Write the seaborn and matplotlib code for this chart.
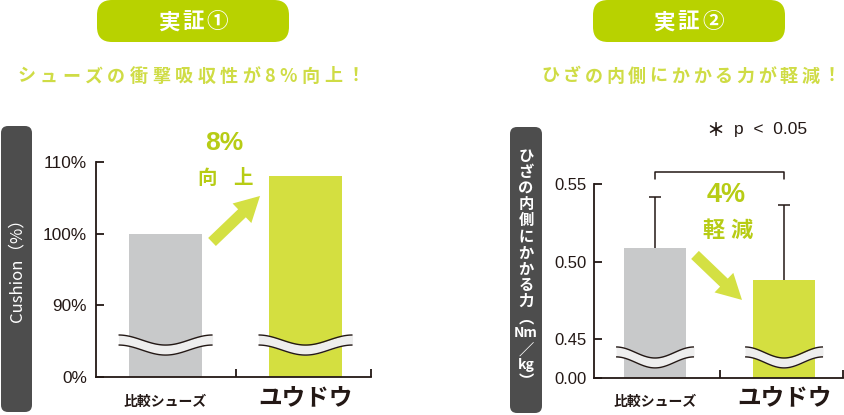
import numpy as np
import pandas as pd
import seaborn as sns
import matplotlib
matplotlib.use("Agg")
import matplotlib.pyplot as plt
from matplotlib.patches import FancyBboxPatch, FancyArrowPatch, ArrowStyle
from matplotlib import transforms

# ---------------- data ----------------
categories = ["比較シューズ", "ユウドウ"]
cushion_values = [100, 108]              # %
cushion_ticks = [0, 90, 100, 110]        # % (broken axis)
knee_values = [0.509, 0.488]             # Nm/kg
knee_upper = [0.5415, 0.5365]            # mean + SD
knee_ticks = [0.00, 0.45, 0.50, 0.55]

titles = ["実証①", "実証②"]
subtitles = ["シューズの衝撃吸収性が8%向上！", "ひざの内側にかかる力が軽減！"]

# broken-axis mappings
def cush_disp(v):
    return 0 if v == 0 else v - 80

def knee_disp(v):
    return 0 if v == 0 else v - 0.425

# ---------------- style ----------------
W, H = 845, 415
DARK = "#231815"
GRAY = "#c8c9ca"
GREEN = "#d4df40"
LIME_TXT = "#b7cc15"
PILL = "#b8d200"
SUB = "#cfdc45"
ARROW = "#d4e043"
BOX = "#4d4d4d"
WAVE = "#eeeeee"

sns.set_style("white")
plt.rcParams["font.family"] = ["Noto Sans CJK JP", "DejaVu Sans"]

fig = plt.figure(figsize=(W / 100, H / 100), dpi=100)
renderer = fig.canvas.get_renderer()

def ftext(x, y, s, **kw):
    kw.setdefault("ha", "center")
    kw.setdefault("va", "center")
    return fig.text(x / W, 1 - y / H, s, **kw)

def spaced_text(cx, cy, s, size, gap, color, weight="normal", family=None):
    em = size * 100 / 72
    fam = family or ["Noto Sans CJK JP", "DejaVu Sans"]
    advs = []
    for ch in s:
        if ord(ch) < 128:
            t = fig.text(0, 0, ch, fontsize=size, fontweight=weight, family=fam)
            advs.append(t.get_window_extent(renderer).width)
            t.remove()
        else:
            advs.append(em)
    total = sum(advs) + gap * (len(s) - 1)
    x = cx - total / 2
    for ch, a in zip(s, advs):
        ftext(x + a / 2, cy, ch, fontsize=size, fontweight=weight, color=color, family=fam)
        x += a + gap

# ---------------- header ----------------
for cx, x0, title, sub, subcx, gap in [(193, 97, titles[0], subtitles[0], 191, 4.4),
                                       (688.5, 593, titles[1], subtitles[1], 691, 3.6)]:
    pill = FancyBboxPatch((x0 / 100, (H - 42) / 100), 1.92, 0.42,
                          boxstyle="round,pad=0,rounding_size=0.15",
                          transform=fig.dpi_scale_trans, fc=PILL, ec="none")
    fig.add_artist(pill)
    spaced_text(cx, 22, title, 15.5, 3.0, "white", weight="bold")
    spaced_text(subcx, 76, sub, 13, gap, SUB, weight="bold")

# ---------------- y-label boxes ----------------
fig.add_artist(FancyBboxPatch((0.01, (H - 412) / 100), 0.31, 2.86,
                              boxstyle="round,pad=0,rounding_size=0.07",
                              transform=fig.dpi_scale_trans, fc=BOX, ec="none"))
ftext(16.5, 266, "Cushion（%）", rotation=90, fontsize=12, color="white")

fig.add_artist(FancyBboxPatch((5.10, (H - 413) / 100), 0.32, 2.86,
                              boxstyle="round,pad=0,rounding_size=0.07",
                              transform=fig.dpi_scale_trans, fc=BOX, ec="none"))
vert_items = ["ひ", "ざ", "の", "内", "側", "に", "か", "か", "る", "力", "︵", "Nm", "／", "kg", "︶"]
for i, it in enumerate(vert_items):
    ftext(526, 156 + i * 16.1, it, fontsize=10 if it in ("Nm", "kg") else 11,
          color="white", fontweight="bold")

# ---------------- axes ----------------
ax1 = fig.add_axes([96 / W, 1 - 377 / H, 275 / W, 215 / H])
ax2 = fig.add_axes([594 / W, 1 - 378 / H, 249 / W, 194 / H])

df1 = pd.DataFrame({"shoe": categories, "disp": [cush_disp(v) for v in cushion_values]})
df2 = pd.DataFrame({"shoe": categories, "disp": [knee_disp(v) for v in knee_values]})

sns.barplot(data=df1, x="shoe", y="disp", hue="shoe", palette=[GRAY, GREEN],
            width=0.52, saturation=1, linewidth=0, legend=False, ax=ax1)
sns.barplot(data=df2, x="shoe", y="disp", hue="shoe", palette=[GRAY, GREEN],
            width=0.48, saturation=1, linewidth=0, legend=False, ax=ax2)

def style_axes(ax, xlim, ylim, ticks, labels, fsize, pad):
    ax.set_xlim(*xlim)
    ax.set_ylim(*ylim)
    ax.set_xlabel("")
    ax.set_ylabel("")
    sns.despine(ax=ax)
    for s in ("left", "bottom"):
        ax.spines[s].set_color(DARK)
        ax.spines[s].set_linewidth(1.3)
    ax.set_yticks(ticks)
    ax.set_yticklabels(labels, fontfamily="Liberation Sans", fontsize=fsize, color=DARK)
    ax.tick_params(axis="y", direction="in", length=5.8, width=1.3, color=DARK, pad=pad, left=True)
    ax.set_xticks([])
    ax.set_xticks([0.5, xlim[1] - 1e-4], minor=True)
    ax.tick_params(axis="x", which="minor", direction="in", length=5.8, width=1.3,
                   color=DARK, bottom=True)

style_axes(ax1, (-0.497, 1.468), (0, 30), [cush_disp(v) for v in cushion_ticks],
           [f"{v}%" for v in cushion_ticks], 12.4, 6.5)
style_axes(ax2, (-0.473, 1.457), (0, 0.125), [knee_disp(v) for v in knee_ticks],
           [f"{v:.2f}" for v in knee_ticks], 12, 5)

# category labels
for ax, ys in ((ax1, (-0.116, -0.098)), (ax2, (-0.124, -0.103))):
    tr = transforms.blended_transform_factory(ax.transData, ax.transAxes)
    ax.text(0, ys[0], categories[0], transform=tr, ha="center", va="center",
            fontsize=10, fontweight="bold", color=DARK)
    ax.text(1, ys[1], categories[1], transform=tr, ha="center", va="center",
            fontsize=17, fontweight="bold", color=DARK)

# wave breaks
def draw_break(ax, xc, half, y_end, dip, thick):
    t = np.linspace(0, 1, 120)
    xs = xc - half + 2 * half * t
    top = y_end - dip * (1 - np.cos(2 * np.pi * t)) / 2
    bot = top - thick
    ax.fill_between(xs, bot, top, color=WAVE, lw=0, zorder=3)
    ax.plot(xs, top, color=DARK, lw=1.0, zorder=4, solid_capstyle="butt")
    ax.plot(xs, bot, color=DARK, lw=1.0, zorder=4, solid_capstyle="butt")

for i in range(len(categories)):
    draw_break(ax1, i, 0.336, 5.86, 1.40, 1.40)
    draw_break(ax2, i, 0.302, 0.0200, 0.0071, 0.0064)

# error bars (upper only)
xs = np.arange(len(categories))
lo = [knee_disp(v) for v in knee_values]
hi = [knee_disp(v) for v in knee_upper]
ax2.vlines(xs, lo, hi, color=DARK, lw=1.1, zorder=5)
ax2.hlines(hi, xs - 0.05, xs + 0.05, color=DARK, lw=1.1, zorder=5)

# significance bracket
ax2.plot([0, 0, 1, 1], [0.1282, 0.1327, 0.1327, 0.1282], color=DARK, lw=1.1,
         clip_on=False)
ftext(715, 130, "＊", fontsize=13, fontweight="bold", color=DARK)
ftext(734, 129, "p  <  0.05", ha="left", fontsize=12.5, color=DARK, family="Liberation Sans")

# arrows
style = ArrowStyle("Simple", head_length=1.8, head_width=1.95, tail_width=0.8)
ax1.add_patch(FancyArrowPatch((0.332, 18.84), (0.675, 25.26), arrowstyle=style,
                              mutation_scale=10, color=ARROW, lw=0, shrinkA=0, shrinkB=0,
                              zorder=6, clip_on=False))
ax2.add_patch(FancyArrowPatch((0.310, 0.0793), (0.674, 0.0503), arrowstyle=style,
                              mutation_scale=10, color=ARROW, lw=0, shrinkA=0, shrinkB=0,
                              zorder=6, clip_on=False))

# callouts
ftext(224, 142.5, "8%", fontsize=19, fontweight="bold", color=LIME_TXT, family="Liberation Sans")
spaced_text(225, 178, "向上", 14, 17, LIME_TXT, weight="bold")
ftext(726.5, 195, "4%", fontsize=19.5, fontweight="bold", color=LIME_TXT, family="Liberation Sans")
spaced_text(727.5, 230, "軽減", 16, 6.5, LIME_TXT, weight="bold")

fig.savefig("out.png", dpi=100)
